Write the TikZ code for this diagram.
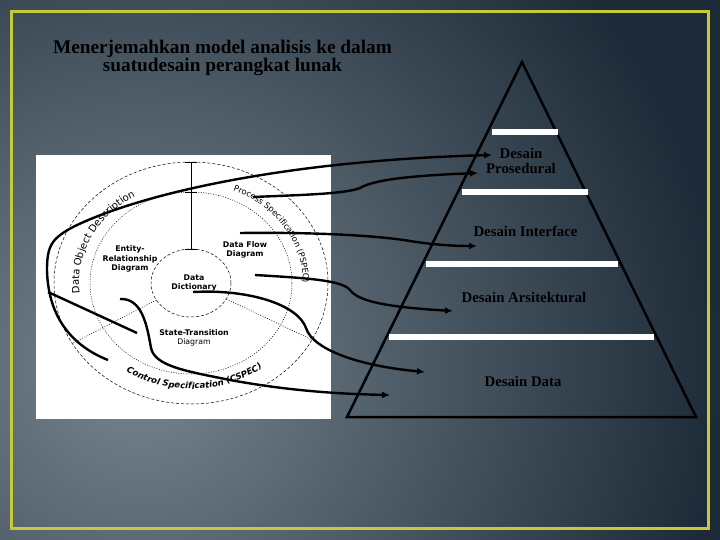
\documentclass[tikz,border=0pt]{standalone}
\usepackage{fontspec}
\setmainfont{Liberation Serif}
\newfontfamily\modelfont{DejaVu Sans}
\usetikzlibrary{arrows.meta,calc,decorations.text}

\definecolor{slatedark}{HTML}{1C2A37}
\definecolor{slatelight}{HTML}{76858F}
\definecolor{framecol}{HTML}{C8C83A}

\tikzset{
    flowline/.style={line width=2.4pt},
    flowarrow/.style={line width=2.4pt, -{Latex[length=8pt,width=7pt]}},
    ringdash/.style={line width=0.5pt, dash pattern=on 3pt off 2pt},
    ringdot/.style={line width=0.5pt, dash pattern=on 1pt off 1.5pt},
    levelbar/.style={white, line width=6.5pt},
    levellabel/.style={font=\fontsize{14.8}{14.3}\selectfont\bfseries, align=center, inner sep=0pt},
    modellabel/.style={font=\modelfont\fontsize{7.8}{9.5}\selectfont\bfseries, align=center, inner sep=0pt}
}

\begin{document}
\begin{tikzpicture}[x=1pt, y=-1pt]
        \useasboundingbox (0,0) rectangle (720,540);
        % background and frame
        \fill[slatedark] (0,0) rectangle (720,540);
        \begin{scope}
            \clip (0,0) rectangle (720,540);
            \shade[inner color=slatelight, outer color=slatedark] (140,365) circle (590);
        \end{scope}
        \draw[framecol, line width=2.5pt] (11.5,11.5) rectangle (708.5,528.5);

        % title
        \node[font=\fontsize{19.3}{17}\selectfont\bfseries, align=center, anchor=base] (title) at (222.5,71.7) {Menerjemahkan model analisis ke dalam\\suatudesain perangkat lunak};

        % analysis model
        \fill[white] (36,155) rectangle (331,419);
        \coordinate (c) at (191,283);
        \draw[ringdash] (c) ellipse [x radius=137, y radius=121];
        \draw[ringdot] (c) ellipse [x radius=101, y radius=91];
        \draw[ringdash] (c) ellipse [x radius=40, y radius=34];
        \draw[ringdot] ($(c)+(150:40 and 34)$) -- ($(c)+(150:137 and 121)$);
        \draw[ringdot] ($(c)+(28:40 and 34)$) -- ($(c)+(28:137 and 121)$);
        \draw (191,162) -- (191,249);
        \draw (185,162) -- (197,162);
        \draw (185,192) -- (197,192);
        \draw (185,249) -- (197,249);
        \node[modellabel] (erd) at (130,259) {Entity-\\Relationship\\Diagram};
        \node[modellabel] (dfd) at (245,250) {Data Flow\\Diagram};
        \node[modellabel] (dd) at (194,283) {Data\\Dictionary};
        \node[modellabel] (std) at (194,338) {State-Transition\\{\mdseries Diagram}};
        \path[decorate, decoration={text along path, text align=center,
            text={|\modelfont\fontsize{10}{10}\selectfont|Data Object Description}}]
            ($(c)+(160:112 and 100)$) arc[start angle=160, end angle=253, x radius=112, y radius=100];
        \path[decorate, decoration={text along path, text align=center,
            text={|\modelfont\fontsize{8.3}{9}\selectfont|Process Specification (PSPEC)}}]
            ($(c)+(-88:112 and 100)$) arc[start angle=-88, end angle=22, x radius=112, y radius=100];
        \path[decorate, decoration={text along path, text align=center,
            text={|\modelfont\bfseries\itshape\fontsize{8.6}{9}\selectfont|Control Specification (CSPEC)}}]
            ($(c)+(138:119 and 106)$) arc[start angle=138, end angle=38, x radius=119, y radius=106];

        % design pyramid
        \draw[line width=2.5pt] (522,62) -- (696,417) -- (347,417) -- cycle;
        \draw[levelbar] (492,132) -- (558,132);
        \draw[levelbar] (462,192) -- (588,192);
        \draw[levelbar] (426,264) -- (618,264);
        \draw[levelbar] (389,337) -- (654,337);
        \node[levellabel, anchor=base] (prosedural) at (521,173.3) {Desain\\Prosedural};
        \node[levellabel, anchor=base] (interface) at (525.5,236.7) {Desain Interface};
        \node[levellabel, anchor=base] (arsitektural) at (524,302.7) {Desain Arsitektural};
        \node[levellabel, anchor=base] (data) at (523,386.7) {Desain Data};

        % mapping
        \coordinate (s1) at (108,360);
        \coordinate (t1) at (492,155);
        \coordinate (b1) at (48,292);
        \coordinate (b2) at (137,333);
        \coordinate (s2) at (253,197);
        \coordinate (t2) at (478,173);
        \coordinate (s3) at (240,233);
        \coordinate (t3) at (477,246);
        \coordinate (s4) at (255,275);
        \coordinate (t4) at (453,311);
        \coordinate (s5) at (193,292);
        \coordinate (t5) at (425,372);
        \coordinate (s6) at (120,299);
        \coordinate (t6) at (390,395);
        \draw[flowarrow] (s1) .. controls (70,345) and (48,315) .. (47,270) .. controls (47,245) and (52,238) .. (75,226) .. controls (150,190) and (300,160) .. (t1);
        \draw[flowline] (b1) -- (b2);
        \draw[flowarrow] (s2) .. controls (300,195) and (345,194) .. (360,188) .. controls (372,181) and (400,176) .. (t2);
        \draw[flowarrow] (s3) .. controls (320,232) and (380,236) .. (410,241) .. controls (435,245) and (455,246) .. (t3);
        \draw[flowarrow] (s4) .. controls (305,278) and (342,280) .. (350,290) .. controls (358,301) and (385,307) .. (t4);
        \draw[flowarrow] (s5) .. controls (250,289) and (298,305) .. (306,328) .. controls (313,350) and (360,366) .. (t5);
        \draw[flowarrow] (s6) .. controls (142,298) and (147,325) .. (151,348) .. controls (155,366) and (185,371) .. (230,380) .. controls (290,391) and (340,394) .. (t6);
\end{tikzpicture}
\end{document}
